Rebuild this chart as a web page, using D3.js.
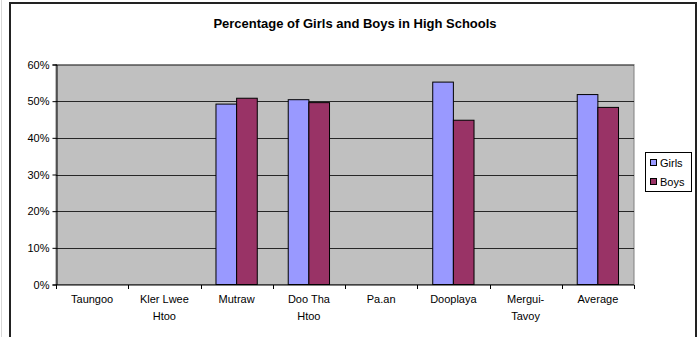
<!DOCTYPE html>
<html>
<head>
<meta charset="utf-8">
<script src="https://cdn.jsdelivr.net/npm/d3@7"></script>
<style>
  body { margin: 0; background: #fff; }
  svg text { font-family: Arial, "Liberation Sans", sans-serif; }
</style>
</head>
<body>
<div id="chart"></div>
<script>
var categories = [["Taungoo"], ["Kler Lwee", "Htoo"], ["Mutraw"], ["Doo Tha", "Htoo"], ["Pa.an"], ["Dooplaya"], ["Mergui-", "Tavoy"], ["Average"]];
var seriesNames = ["Girls", "Boys"];
var girls = [null, null, 0.492, 0.504, null, 0.552, null, 0.518];
var boys = [null, null, 0.508, 0.496, null, 0.448, null, 0.483];
var yTicks = [0, 0.1, 0.2, 0.3, 0.4, 0.5, 0.6];
var colors = ["#9999FF", "#993366"];

var W = 698, H = 337;
var svg = d3.select('#chart').append('svg')
    .attr('width', W)
    .attr('height', H);

// faint line at the far left edge
svg.append('line')
    .attr('x1', 1.5).attr('x2', 1.5).attr('y1', 0).attr('y2', H)
    .attr('stroke', '#d8d8d8');

// chart frame (bottom edge is cut off)
svg.append('rect')
    .attr('x', 10).attr('y', 3)
    .attr('width', 686).attr('height', H + 10)
    .attr('fill', '#fff')
    .attr('stroke', '#222')
    .attr('stroke-width', 2);

svg.append('text')
    .attr('x', 355).attr('y', 28)
    .attr('text-anchor', 'middle')
    .style('font-size', '13px')
    .style('font-weight', 'bold')
    .text('Percentage of Girls and Boys in High Schools');

var pLeft = 56, pRight = 634, pTop = 64.5, pBottom = 284.5;

var x = d3.scaleBand()
    .domain(d3.range(categories.length))
    .range([pLeft, pRight]);
var xs = d3.scaleBand()
    .domain(seriesNames)
    .range([0, x.bandwidth()])
    .paddingInner(0)
    .paddingOuter(0.75);
var y = d3.scaleLinear().domain([0, 0.6]).range([pBottom, pTop]);

svg.append('rect')
    .attr('x', pLeft).attr('y', pTop)
    .attr('width', pRight - pLeft).attr('height', pBottom - pTop)
    .attr('fill', '#C0C0C0')
    .attr('stroke', '#808080');

svg.append('g')
    .selectAll('line')
    .data(yTicks.slice(1))
    .join('line')
    .attr('x1', pLeft).attr('x2', pRight)
    .attr('y1', function (d) { return Math.round(y(d)) + 0.5; })
    .attr('y2', function (d) { return Math.round(y(d)) + 0.5; })
    .attr('stroke', '#000')
    .attr('stroke-opacity', function (d) { return d === 0.6 ? 0.45 : 0.8; });

var values = [girls, boys];
values.forEach(function (vals, si) {
    svg.append('g')
        .selectAll('rect')
        .data(vals.map(function (v, i) { return {i: i, v: v}; }).filter(function (d) { return d.v !== null; }))
        .join('rect')
        .attr('x', function (d) { return x(d.i) + xs(seriesNames[si]); })
        .attr('y', function (d) { return y(d.v); })
        .attr('width', xs.bandwidth())
        .attr('height', function (d) { return pBottom - y(d.v); })
        .attr('fill', colors[si])
        .attr('stroke', '#000')
        .attr('stroke-width', 1);
});

// y axis
var yAxis = svg.append('g')
    .attr('transform', 'translate(' + (pLeft + 0.5) + ',0)')
    .call(d3.axisLeft(y).tickValues(yTicks).tickFormat(d3.format('.0%')).tickSize(4).tickPadding(3));
yAxis.select('.domain').attr('stroke', '#000');
yAxis.selectAll('text').style('font-size', '11px').attr('fill', '#000');

// x axis with ticks between categories
var xb = svg.append('g').attr('transform', 'translate(0,' + (pBottom + 0.5) + ')');
xb.append('line').attr('x1', pLeft).attr('x2', pRight).attr('stroke', '#000');
xb.selectAll('line.tk')
    .data(d3.range(categories.length + 1))
    .join('line')
    .attr('class', 'tk')
    .attr('x1', function (i) { return Math.round(pLeft + i * x.step()) + 0.5; })
    .attr('x2', function (i) { return Math.round(pLeft + i * x.step()) + 0.5; })
    .attr('y1', 0).attr('y2', 4)
    .attr('stroke', '#000');

var labels = svg.append('g')
    .selectAll('text')
    .data(categories)
    .join('text')
    .attr('x', function (d, i) { return x(i) + x.bandwidth() / 2; })
    .attr('y', 303)
    .attr('text-anchor', 'middle')
    .style('font-size', '11px');
labels.selectAll('tspan')
    .data(function (d) { return d; })
    .join('tspan')
    .attr('x', function () { return d3.select(this.parentNode).attr('x'); })
    .attr('dy', function (d, i) { return i === 0 ? 0 : 17; })
    .text(function (d) { return d; });

// legend
var lg = svg.append('g');
lg.append('rect')
    .attr('x', 645.5).attr('y', 152.5)
    .attr('width', 46).attr('height', 39)
    .attr('fill', '#fff')
    .attr('stroke', '#000');
seriesNames.forEach(function (name, i) {
    var yy = 163 + i * 19;
    lg.append('rect')
        .attr('x', 650.5).attr('y', yy - 3.5)
        .attr('width', 6).attr('height', 6)
        .attr('fill', colors[i])
        .attr('stroke', '#000');
    lg.append('text')
        .attr('x', 660).attr('y', yy + 4)
        .style('font-size', '11px')
        .text(name);
});
</script>
</body>
</html>
